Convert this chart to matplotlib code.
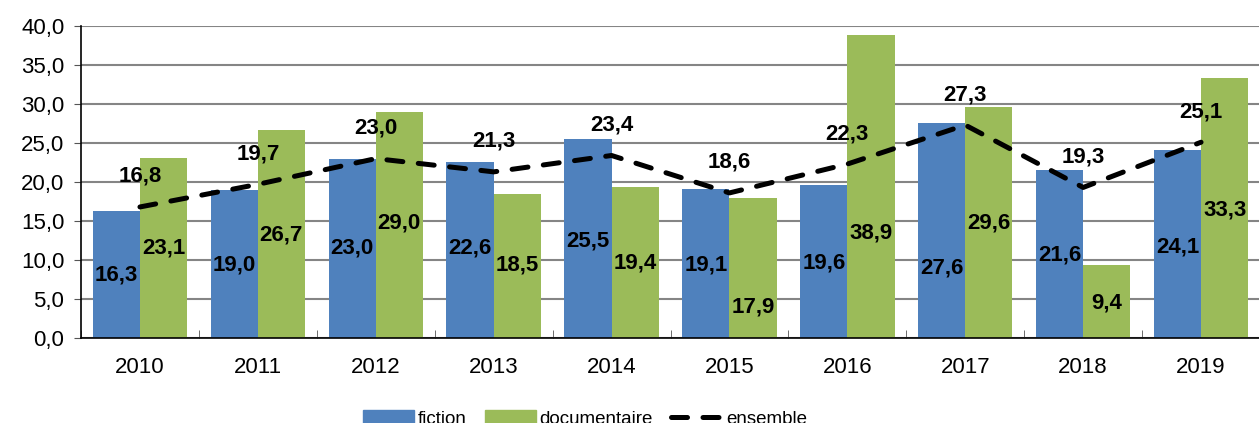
import numpy as np
import matplotlib.pyplot as plt
from matplotlib.patches import Patch
from matplotlib.lines import Line2D

plt.rcParams['font.family'] = ['Liberation Sans', 'DejaVu Sans']

# Data
years = ['2010', '2011', '2012', '2013', '2014', '2015', '2016', '2017', '2018', '2019']
fiction = [16.3, 19.0, 23.0, 22.6, 25.5, 19.1, 19.6, 27.6, 21.6, 24.1]
documentaire = [23.1, 26.7, 29.0, 18.5, 19.4, 17.9, 38.9, 29.6, 9.4, 33.3]
ensemble = [16.8, 19.7, 23.0, 21.3, 23.4, 18.6, 22.3, 27.3, 19.3, 25.1]

# heights where the bar labels sit (mostly mid-bar, a few moved by hand)
fiction_label_y = [8.1, 9.3, 11.5, 11.5, 12.5, 9.3, 9.6, 9.0, 10.6, 11.7]
doc_label_y = [11.5, 13.2, 14.8, 9.3, 9.6, 4.0, 13.4, 14.7, 4.5, 16.4]

blue = '#4F81BD'
green = '#9BBB59'
fs = 16

def fr(v):
    return f'{v:.1f}'.replace('.', ',')

fig = plt.figure(figsize=(12.59, 4.23), dpi=100)
ax = fig.add_axes([81 / 1259, 1 - 338 / 423, (1260 - 81) / 1259, 312 / 423])

x = np.arange(len(years))
w = 0.4
ax.bar(x - w / 2, fiction, w, color=blue, zorder=2)
ax.bar(x + w / 2, documentaire, w, color=green, zorder=2)
ax.plot(x, ensemble, color='black', lw=3.6, dashes=(3.2, 3.1),
        dash_capstyle='round', zorder=3)

# labels
for i in range(len(years)):
    ax.text(x[i] - w / 2, fiction_label_y[i], fr(fiction[i]), ha='center', va='center',
            fontsize=fs, fontweight='bold', zorder=4)
    ax.text(x[i] + w / 2, doc_label_y[i], fr(documentaire[i]), ha='center', va='center',
            fontsize=fs, fontweight='bold', zorder=4)
    ax.annotate(fr(ensemble[i]), (x[i], ensemble[i]), xytext=(0, 22),
                textcoords='offset points', ha='center', va='center',
                fontsize=fs, fontweight='bold', zorder=4)

# axes styling
ax.set_xlim(-0.5, len(years) - 0.5)
ax.set_ylim(0, 40)
ax.set_yticks(np.arange(0, 41, 5))
ax.set_yticklabels([fr(v) for v in np.arange(0, 41, 5)])
ax.set_xticks(x)
ax.set_xticklabels(years)
ax.set_xticks(np.arange(-0.5, len(years), 1), minor=True)
ax.tick_params(axis='x', which='major', length=0, pad=14, labelsize=fs)
ax.tick_params(axis='x', which='minor', direction='in', length=6, color='#555555')
ax.tick_params(axis='y', length=5, color='#555555', pad=7, labelsize=fs)
ax.yaxis.grid(True, color='#858585', lw=1.5, zorder=0)
ax.set_axisbelow(True)
for s in ['top', 'right']:
    ax.spines[s].set_visible(False)
ax.spines['left'].set_color('black')
ax.spines['bottom'].set_color('black')
ax.spines['left'].set_linewidth(1.2)
ax.spines['bottom'].set_linewidth(1.2)

handles = [Patch(color=blue), Patch(color=green),
           Line2D([], [], color='black', lw=3.6, dashes=(3.2, 3.1), dash_capstyle='round')]
fig.legend(handles, ['fiction', 'documentaire', 'ensemble'], ncol=3, frameon=False,
           loc='center', bbox_to_anchor=(585 / 1259, 1 - 419 / 423), fontsize=13.5,
           handlelength=2.72, handletextpad=0.21, columnspacing=0.96)

fig.savefig('out.png', dpi=100, facecolor='white')
